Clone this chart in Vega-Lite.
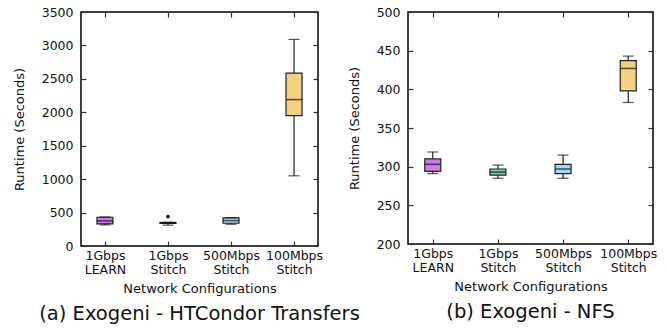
{
  "$schema": "https://vega.github.io/schema/vega-lite/v6.json",
  "padding": {"left": 12, "top": 5, "right": 5, "bottom": 5},
  "background": "white",
  "config": {
    "font": "DejaVu Sans",
    "view": {"stroke": "black", "strokeWidth": 1.5},
    "axis": {"grid": false, "labelFont": "DejaVu Sans", "titleFont": "DejaVu Sans", "labelFontSize": 12.5, "titleFontSize": 13, "labelColor": "#111", "titleColor": "#111", "titleFontWeight": "normal", "domain": false, "tickColor": "#333", "tickWidth": 1.2},
    "title": {"font": "DejaVu Sans", "fontSize": 19.5, "fontWeight": "normal", "color": "#111"}
  },
  "spacing": 90,
  "bounds": "flush",
  "datasets": {
    "a": [
      {"cfg": "1Gbps LEARN", "lower": 315, "q1": 330, "median": 375, "q3": 430, "upper": 435},
      {"cfg": "1Gbps Stitch", "lower": 312, "q1": 338, "median": 345, "q3": 352, "upper": 355, "outlier": 440},
      {"cfg": "500Mbps Stitch", "lower": 325, "q1": 340, "median": 380, "q3": 420, "upper": 425},
      {"cfg": "100Mbps Stitch", "lower": 1050, "q1": 1950, "median": 2190, "q3": 2585, "upper": 3090}
    ],
    "b": [
      {"cfg": "1Gbps LEARN", "lower": 291, "q1": 294, "median": 303, "q3": 310, "upper": 319},
      {"cfg": "1Gbps Stitch", "lower": 285, "q1": 289, "median": 293, "q3": 297, "upper": 302},
      {"cfg": "500Mbps Stitch", "lower": 285, "q1": 291, "median": 297, "q3": 303, "upper": 315},
      {"cfg": "100Mbps Stitch", "lower": 383, "q1": 398, "median": 427, "q3": 437, "upper": 443}
    ]
  },
  "hconcat": [
    {
      "width": 237,
      "height": 234,
      "title": {"text": "(a) Exogeni - HTCondor Transfers", "orient": "bottom", "anchor": "middle", "offset": 9},
      "data": {"name": "a"},
      "resolve": {"axis": {"x": "independent", "y": "independent"}},
      "layer": [
        {
          "mark": {"type": "rule", "color": "#222", "strokeWidth": 1.2},
          "encoding": {
            "x": {"field": "cfg", "type": "nominal", "sort": null, "scale": {"type": "point", "padding": 0.38},
              "axis": {"orient": "bottom", "title": "Network Configurations", "labelAngle": 0, "tickSize": -5, "labelPadding": 8, "titlePadding": 7, "labelExpr": "split(datum.label, ' ')", "labelLineHeight": 14}},
            "y": {"field": "lower", "type": "quantitative", "scale": {"domain": [0, 3500], "nice": false, "zero": false},
              "axis": {"orient": "left", "title": "Runtime (Seconds)", "format": "d", "values": [0, 500, 1000, 1500, 2000, 2500, 3000, 3500], "tickSize": -5, "labelPadding": 13, "titlePadding": 15}},
            "y2": {"field": "upper"}
          }
        },
        {
          "mark": {"type": "bar", "width": 16, "stroke": "#222", "strokeWidth": 1.2},
          "encoding": {
            "x": {"field": "cfg", "type": "nominal", "sort": null,
              "axis": {"orient": "top", "title": null, "labels": false, "tickSize": -5}},
            "y": {"field": "q1", "type": "quantitative",
              "axis": {"orient": "right", "title": null, "labels": false, "tickSize": -5, "values": [0, 500, 1000, 1500, 2000, 2500, 3000, 3500]}},
            "y2": {"field": "q3"},
            "color": {"field": "cfg", "type": "nominal", "sort": null, "legend": null,
              "scale": {"domain": ["1Gbps LEARN", "1Gbps Stitch", "500Mbps Stitch", "100Mbps Stitch"], "range": ["#c97de8", "#80cfb0", "#a6d9f2", "#f2d182"]}}
          }
        },
        {
          "mark": {"type": "tick", "color": "#111", "size": 11, "thickness": 1.2},
          "encoding": {
            "x": {"field": "cfg", "type": "nominal", "sort": null, "axis": null},
            "y": {"field": "lower", "type": "quantitative", "axis": null}
          }
        },
        {
          "mark": {"type": "tick", "color": "#111", "size": 11, "thickness": 1.2},
          "encoding": {
            "x": {"field": "cfg", "type": "nominal", "sort": null, "axis": null},
            "y": {"field": "upper", "type": "quantitative", "axis": null}
          }
        },
        {
          "mark": {"type": "tick", "color": "#111", "size": 16, "thickness": 1.5},
          "encoding": {
            "x": {"field": "cfg", "type": "nominal", "sort": null, "axis": null},
            "y": {"field": "median", "type": "quantitative", "axis": null}
          }
        },
        {
          "transform": [{"filter": "isValid(datum.outlier)"}],
          "mark": {"type": "point", "filled": true, "color": "#111", "size": 14, "opacity": 1},
          "encoding": {
            "x": {"field": "cfg", "type": "nominal", "sort": null, "axis": null},
            "y": {"field": "outlier", "type": "quantitative", "axis": null}
          }
        }
      ]
    },
    {
      "width": 245,
      "height": 232,
      "title": {"text": "(b) Exogeni - NFS", "orient": "bottom", "anchor": "middle", "offset": 9},
      "data": {"name": "b"},
      "resolve": {"axis": {"x": "independent", "y": "independent"}},
      "layer": [
        {
          "mark": {"type": "rule", "color": "#222", "strokeWidth": 1.2},
          "encoding": {
            "x": {"field": "cfg", "type": "nominal", "sort": null, "scale": {"type": "point", "padding": 0.38},
              "axis": {"orient": "bottom", "title": "Network Configurations", "labelAngle": 0, "tickSize": -5, "labelPadding": 8, "titlePadding": 7, "labelExpr": "split(datum.label, ' ')", "labelLineHeight": 14}},
            "y": {"field": "lower", "type": "quantitative", "scale": {"domain": [200, 500], "nice": false, "zero": false},
              "axis": {"orient": "left", "title": "Runtime (Seconds)", "format": "d", "values": [200, 250, 300, 350, 400, 450, 500], "tickSize": -5, "labelPadding": 13, "titlePadding": 15}},
            "y2": {"field": "upper"}
          }
        },
        {
          "mark": {"type": "bar", "width": 16, "stroke": "#222", "strokeWidth": 1.2},
          "encoding": {
            "x": {"field": "cfg", "type": "nominal", "sort": null,
              "axis": {"orient": "top", "title": null, "labels": false, "tickSize": -5}},
            "y": {"field": "q1", "type": "quantitative",
              "axis": {"orient": "right", "title": null, "labels": false, "tickSize": -5, "values": [200, 250, 300, 350, 400, 450, 500]}},
            "y2": {"field": "q3"},
            "color": {"field": "cfg", "type": "nominal", "sort": null, "legend": null,
              "scale": {"domain": ["1Gbps LEARN", "1Gbps Stitch", "500Mbps Stitch", "100Mbps Stitch"], "range": ["#c97de8", "#80cfb0", "#a6d9f2", "#f2d182"]}}
          }
        },
        {
          "mark": {"type": "tick", "color": "#111", "size": 11, "thickness": 1.2},
          "encoding": {
            "x": {"field": "cfg", "type": "nominal", "sort": null, "axis": null},
            "y": {"field": "lower", "type": "quantitative", "axis": null}
          }
        },
        {
          "mark": {"type": "tick", "color": "#111", "size": 11, "thickness": 1.2},
          "encoding": {
            "x": {"field": "cfg", "type": "nominal", "sort": null, "axis": null},
            "y": {"field": "upper", "type": "quantitative", "axis": null}
          }
        },
        {
          "mark": {"type": "tick", "color": "#111", "size": 16, "thickness": 1.5},
          "encoding": {
            "x": {"field": "cfg", "type": "nominal", "sort": null, "axis": null},
            "y": {"field": "median", "type": "quantitative", "axis": null}
          }
        }
      ]
    }
  ],
  "resolve": {"scale": {"color": "shared"}}
}
